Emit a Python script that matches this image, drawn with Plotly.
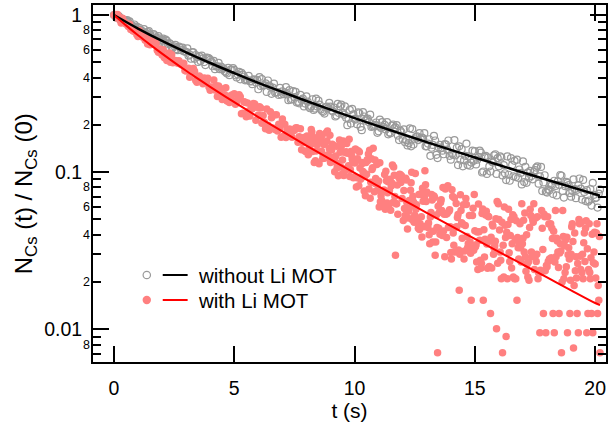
import math
import plotly.graph_objects as go

# ---------------- data ----------------
# without Li MOT (gray open circles), sampled every 0.05 s
t_gray = [round(0.05 * i, 2) for i in range(405)]
n_gray = [
    1.000, 0.997, 0.961, 0.983, 0.985, 0.948, 0.950, 0.945, 0.917, 0.927,
    0.923, 0.929, 0.900, 0.910, 0.864, 0.859, 0.847, 0.870, 0.834, 0.844,
    0.804, 0.830, 0.802, 0.795, 0.782, 0.812, 0.768, 0.762, 0.778, 0.790,
    0.752, 0.723, 0.722, 0.756, 0.742, 0.719, 0.690, 0.734, 0.710, 0.678,
    0.692, 0.708, 0.665, 0.697, 0.685, 0.654, 0.663, 0.654, 0.623, 0.618,
    0.632, 0.646, 0.607, 0.597, 0.630, 0.621, 0.597, 0.620, 0.587, 0.586,
    0.583, 0.614, 0.551, 0.559, 0.527, 0.580, 0.578, 0.526, 0.555, 0.540,
    0.503, 0.546, 0.510, 0.552, 0.529, 0.502, 0.480, 0.535, 0.533, 0.530,
    0.518, 0.505, 0.472, 0.511, 0.452, 0.471, 0.471, 0.496, 0.452, 0.470,
    0.451, 0.457, 0.438, 0.432, 0.425, 0.461, 0.414, 0.449, 0.447, 0.459,
    0.447, 0.413, 0.401, 0.418, 0.435, 0.390, 0.428, 0.417, 0.406, 0.384,
    0.389, 0.384, 0.410, 0.379, 0.378, 0.363, 0.389, 0.387, 0.372, 0.387,
    0.337, 0.403, 0.354, 0.391, 0.356, 0.358, 0.367, 0.324, 0.383, 0.355,
    0.349, 0.315, 0.345, 0.366, 0.320, 0.322, 0.323, 0.310, 0.344, 0.312,
    0.327, 0.314, 0.322, 0.348, 0.312, 0.287, 0.333, 0.289, 0.292, 0.328,
    0.300, 0.324, 0.278, 0.281, 0.274, 0.310, 0.288, 0.294, 0.262, 0.273,
    0.304, 0.281, 0.261, 0.255, 0.263, 0.291, 0.249, 0.254, 0.294, 0.262,
    0.285, 0.269, 0.250, 0.245, 0.242, 0.236, 0.259, 0.261, 0.256, 0.276,
    0.261, 0.247, 0.243, 0.258, 0.226, 0.229, 0.272, 0.238, 0.262, 0.269,
    0.238, 0.232, 0.262, 0.222, 0.199, 0.219, 0.249, 0.204, 0.253, 0.233,
    0.218, 0.216, 0.202, 0.240, 0.237, 0.194, 0.185, 0.241, 0.226, 0.213,
    0.217, 0.219, 0.208, 0.232, 0.194, 0.196, 0.198, 0.200, 0.207, 0.178,
    0.182, 0.216, 0.191, 0.208, 0.194, 0.200, 0.187, 0.208, 0.174, 0.179,
    0.177, 0.198, 0.201, 0.190, 0.193, 0.199, 0.171, 0.160, 0.184, 0.179,
    0.162, 0.187, 0.155, 0.160, 0.148, 0.153, 0.190, 0.146, 0.188, 0.150,
    0.162, 0.167, 0.169, 0.160, 0.177, 0.163, 0.166, 0.164, 0.177, 0.146,
    0.146, 0.152, 0.162, 0.127, 0.143, 0.149, 0.170, 0.159, 0.129, 0.123,
    0.144, 0.149, 0.142, 0.137, 0.130, 0.151, 0.150, 0.139, 0.159, 0.127,
    0.120, 0.131, 0.129, 0.160, 0.128, 0.143, 0.111, 0.146, 0.120, 0.140,
    0.109, 0.119, 0.127, 0.152, 0.111, 0.126, 0.110, 0.115, 0.137, 0.118,
    0.136, 0.112, 0.120, 0.125, 0.137, 0.133, 0.0995, 0.101, 0.125, 0.127,
    0.0974, 0.124, 0.109, 0.101, 0.117, 0.115, 0.128, 0.130, 0.0974, 0.123,
    0.109, 0.126, 0.124, 0.0953, 0.111, 0.0984, 0.0891, 0.126, 0.0963, 0.0882,
    0.123, 0.111, 0.0942, 0.118, 0.0931, 0.120, 0.0921, 0.104, 0.0987, 0.0835,
    0.117, 0.0865, 0.108, 0.0855, 0.0994, 0.0919, 0.102, 0.0946, 0.0900, 0.101,
    0.103, 0.107, 0.109, 0.0845, 0.0941, 0.108, 0.0758, 0.0861, 0.0956, 0.0750,
    0.0742, 0.0776, 0.0768, 0.0835, 0.0825, 0.0726, 0.0882, 0.0817, 0.0711, 0.0873,
    0.0831, 0.0959, 0.0949, 0.0759, 0.0689, 0.0814, 0.0868, 0.0855, 0.0827, 0.0736,
    0.0698, 0.0758, 0.0901, 0.0781, 0.0683, 0.0772, 0.0823, 0.0911, 0.0786, 0.0669,
    0.0893, 0.0749, 0.0655, 0.0769, 0.0648, 0.0660, 0.0781, 0.0613, 0.0855, 0.0717,
    0.0683, 0.0690, 0.0595, 0.0731, 0.0776,
]

# with Li MOT (red filled circles): every 0.05 s, plus the interleaved shots from 8 s on
t_red = [round(0.05 * i, 2) for i in range(405)] + [round(8.025 + 0.05 * i, 3) for i in range(244)]
n_red = [
    1.000, 1.006, 0.960, 1.006, 0.976, 0.925, 0.890, 0.954, 0.911, 0.897,
    0.878, 0.872, 0.846, 0.872, 0.809, 0.806, 0.792, 0.789, 0.782, 0.752,
    0.729, 0.798, 0.732, 0.766, 0.723, 0.733, 0.692, 0.735, 0.653, 0.664,
    0.646, 0.686, 0.678, 0.658, 0.651, 0.661, 0.597, 0.579, 0.608, 0.599,
    0.557, 0.602, 0.535, 0.543, 0.513, 0.522, 0.573, 0.500, 0.559, 0.496,
    0.506, 0.514, 0.509, 0.494, 0.511, 0.489, 0.484, 0.480, 0.494, 0.444,
    0.441, 0.450, 0.459, 0.402, 0.420, 0.429, 0.456, 0.438, 0.383, 0.374,
    0.400, 0.409, 0.391, 0.382, 0.365, 0.398, 0.389, 0.373, 0.396, 0.348,
    0.332, 0.348, 0.340, 0.386, 0.333, 0.355, 0.303, 0.354, 0.311, 0.339,
    0.290, 0.304, 0.311, 0.345, 0.284, 0.304, 0.278, 0.284, 0.310, 0.284,
    0.316, 0.270, 0.282, 0.291, 0.311, 0.302, 0.235, 0.237, 0.281, 0.279,
    0.225, 0.275, 0.244, 0.228, 0.255, 0.253, 0.273, 0.271, 0.214, 0.259,
    0.231, 0.261, 0.256, 0.205, 0.229, 0.208, 0.189, 0.252, 0.199, 0.185,
    0.242, 0.222, 0.191, 0.231, 0.187, 0.232, 0.183, 0.202, 0.192, 0.167,
    0.218, 0.169, 0.202, 0.166, 0.186, 0.174, 0.188, 0.176, 0.167, 0.184,
    0.185, 0.191, 0.192, 0.155, 0.168, 0.189, 0.139, 0.154, 0.166, 0.136,
    # t = 8.00 s ...
    0.1347, 0.1546, 0.1320, 0.1586, 0.187, 0.1355, 0.1596, 0.1523, 0.1362, 0.1493,
    0.168, 0.176, 0.157, 0.172, 0.1282, 0.1224, 0.1257, 0.158, 0.129, 0.1414,
    0.1153, 0.1386, 0.1239, 0.1183, 0.1159, 0.146, 0.1136, 0.1085, 0.1339, 0.1468,
    0.1197, 0.0951, 0.1022, 0.1347, 0.1321, 0.1098, 0.0938, 0.1356, 0.1213, 0.0920,
    # t = 10.00 s ...
    0.1143, 0.1397, 0.0920, 0.1371, 0.1344, 0.0902, 0.1152, 0.1008, 0.0759, 0.0709,
    0.0971, 0.1185, 0.0780, 0.0682, 0.1218, 0.1065, 0.0857, 0.1194, 0.0840, 0.0845,
    0.0879, 0.1147, 0.0707, 0.0756, 0.0606, 0.0965, 0.1012, 0.0636, 0.0868, 0.0762,
    0.0572, 0.0852, 0.0641, 0.0955, 0.0296, 0.0629, 0.0539, 0.0918, 0.0964, 0.0950,
    # t = 12.00 s ...
    0.0906, 0.0763, 0.0529, 0.0890, 0.0435, 0.0565, 0.0605, 0.0856, 0.0498, 0.0647,
    0.0532, 0.0581, 0.0480, 0.0440, 0.0431, 0.0725, 0.0387, 0.0653, 0.0698, 0.0831,
    0.0747, 0.0444, 0.0399, 0.0518, 0.0720, 0.0359, 0.0706, 0.0296, 0.0534, 0.0071,
    0.0439, 0.0403, 0.0667, 0.0396, 0.0423, 0.0290, 0.0539, 0.0545, 0.0444, 0.0576,
    # t = 14.00 s ...
    0.0308, 0.0773, 0.0410, 0.0686, 0.0446, 0.0450, 0.0538, 0.0177, 0.0717, 0.0476,
    0.0467, 0.0280, 0.0458, 0.0623, 0.0330, 0.0335, 0.0359, 0.0153, 0.0530, 0.0318,
    0.0424, 0.0345, 0.0416, 0.0627, 0.0369, 0.0245, 0.0545, 0.0153, 0.0289, 0.0534,
    0.0349, 0.0525, 0.0251, 0.0126, 0.0246, 0.0455, 0.0329, 0.0364, 0.0101, 0.0263,
    # t = 16.00 s ...
    0.050, 0.031, 0.021, 0.0071, 0.0215, 0.046, 0.009, 0.021, 0.058, 0.027,
    0.050, 0.035, 0.0215, 0.021, 0.021, 0.0153, 0.033, 0.035, 0.033, 0.063,
    0.038, 0.031, 0.029, 0.040, 0.0215, 0.0205, 0.058, 0.031, 0.050, 0.063,
    0.029, 0.027, 0.052, 0.023, 0.0095, 0.023, 0.044, 0.0126, 0.052, 0.0095,
    # t = 18.00 s ...
    0.025, 0.027, 0.028, 0.047, 0.044, 0.0126, 0.0095, 0.057, 0.038, 0.031,
    0.0126, 0.035, 0.0071, 0.057, 0.021, 0.023, 0.025, 0.0095, 0.033, 0.0126,
    0.030, 0.047, 0.0076, 0.041, 0.029, 0.0126, 0.0095, 0.047, 0.024, 0.023,
    0.021, 0.041, 0.044, 0.0095, 0.0126, 0.047, 0.021, 0.0126, 0.0095, 0.031,
    0.026, 0.041, 0.0126, 0.0153, 0.0071,
    # interleaved shots, t = 8.025 s ...
    0.170, 0.129, 0.144, 0.152, 0.180, 0.167, 0.115, 0.118, 0.161, 0.157,
    0.113, 0.163, 0.136, 0.122, 0.150, 0.154, 0.178, 0.183, 0.124, 0.172,
    0.1195, 0.1504, 0.148, 0.1006, 0.1266, 0.1066, 0.095, 0.160, 0.108, 0.097,
    0.158, 0.1341, 0.105, 0.152, 0.1066, 0.162, 0.104, 0.128, 0.118, 0.093,
    0.140, 0.0804, 0.1218, 0.082, 0.1061, 0.0923, 0.1137, 0.099, 0.094, 0.115,
    0.120, 0.1306, 0.138, 0.0862, 0.104, 0.142, 0.075, 0.091, 0.112, 0.077,
    0.060, 0.0648, 0.066, 0.0756, 0.077, 0.058, 0.0882, 0.074, 0.062, 0.090,
    0.0816, 0.1111, 0.108, 0.070, 0.063, 0.083, 0.0952, 0.097, 0.086, 0.068,
    0.0492, 0.0588, 0.0916, 0.0642, 0.051, 0.066, 0.0767, 0.100, 0.0702, 0.048,
    0.098, 0.062, 0.050, 0.072, 0.047, 0.052, 0.079, 0.045, 0.102, 0.065,
    0.046, 0.0475, 0.035, 0.0553, 0.0665, 0.042, 0.069, 0.036, 0.0445, 0.0606,
    0.0553, 0.064, 0.057, 0.080, 0.054, 0.078, 0.0384, 0.082, 0.0565, 0.045,
    0.028, 0.070, 0.0343, 0.031, 0.0632, 0.0515, 0.032, 0.030, 0.0571, 0.038,
    0.062, 0.0315, 0.068, 0.039, 0.035, 0.053, 0.0305, 0.032, 0.059, 0.072,
    0.0335, 0.0268, 0.024, 0.0417, 0.0275, 0.0262, 0.0582, 0.0430, 0.0374, 0.0565,
    0.0245, 0.0521, 0.0365, 0.0385, 0.0466, 0.030, 0.034, 0.0505, 0.065, 0.063,
    0.0429, 0.0275, 0.048, 0.0343, 0.060, 0.0384, 0.0415, 0.0465, 0.0307, 0.0395,
    0.0246, 0.0536, 0.052, 0.0372, 0.049, 0.0384, 0.028, 0.047, 0.0268, 0.0350,
    0.0494, 0.055, 0.0234, 0.026, 0.0268, 0.0445, 0.053, 0.029, 0.048, 0.0240,
    0.051, 0.030, 0.021, 0.0228, 0.0238, 0.057, 0.0322, 0.054, 0.0236, 0.0255,
    0.052, 0.0468, 0.0275, 0.0285, 0.0378, 0.0421, 0.0268, 0.029, 0.0365, 0.0247,
    0.0306, 0.0315, 0.020, 0.039, 0.034, 0.0372, 0.0385, 0.0298, 0.0280, 0.0205,
    0.0449, 0.0362, 0.019, 0.0236, 0.0212, 0.0262, 0.050, 0.0292, 0.048, 0.0300,
    0.0355, 0.0270, 0.049, 0.0325, 0.0240, 0.0230, 0.0285, 0.0403, 0.0265, 0.0415,
    0.0212, 0.047, 0.019, 0.039,
]

# fit curves
t_fit_black = [0, 1, 2, 3, 4, 5, 6, 7, 8, 9, 10, 11, 12, 13, 14, 15, 16, 17, 18, 19, 20, 20.2]
n_fit_black = [1.000, 0.820, 0.684, 0.579, 0.495, 0.427, 0.370, 0.3235, 0.2838, 0.250, 0.2208,
               0.196, 0.1742, 0.1552, 0.1386, 0.1239, 0.111, 0.0996, 0.0894, 0.0804, 0.0724, 0.0709]
t_fit_red = [0, 0.5, 1, 1.5, 2, 2.5, 3, 3.5, 4, 5, 6, 7, 8, 9, 10, 11, 12, 13, 14, 15, 16, 17, 18, 19, 20, 20.2]
n_fit_red = [1.0, 0.859, 0.743, 0.648, 0.568, 0.500, 0.442, 0.3925, 0.349, 0.2787, 0.2243, 0.1816,
             0.1477, 0.1207, 0.0989, 0.0812, 0.0669, 0.0551, 0.0455, 0.0376, 0.0311, 0.0258,
             0.0214, 0.0177, 0.0147, 0.01425]

legend_labels = ["without Li MOT", "with Li MOT"]
x_ticks = [0, 5, 10, 15, 20]
y_major = [0.01, 0.1, 1]
y_major_text = ["0.01", "0.1", "1"]
y_minor = [0.007, 0.008, 0.009] + [k * 0.01 for k in range(2, 10)] + [k * 0.1 for k in range(2, 10)]
y_minor_labeled = [0.008, 0.02, 0.04, 0.06, 0.08, 0.2, 0.4, 0.6, 0.8]
y_minor_text = ["8", "2", "4", "6", "8", "2", "4", "6", "8"]

# ---------------- styling ----------------
FONT = "Arial, 'Liberation Sans', sans-serif"
GRAY = "#9a9a9a"
PINK = "#ff8080"
RED = "#ff0000"

fig = go.Figure()
fig.add_trace(go.Scatter(x=t_gray, y=n_gray, mode="markers", name=legend_labels[0],
                         marker=dict(symbol="circle-open", size=7, color=GRAY, line=dict(width=1.2, color=GRAY)),
                         showlegend=False))
fig.add_trace(go.Scatter(x=t_red, y=n_red, mode="markers", name=legend_labels[1],
                         marker=dict(symbol="circle", size=7.5, color=PINK, line=dict(width=0)),
                         showlegend=False))
fig.add_trace(go.Scatter(x=t_fit_black, y=n_fit_black, mode="lines",
                         line=dict(color="black", width=2.5, shape="spline"), showlegend=False))
fig.add_trace(go.Scatter(x=t_fit_red, y=n_fit_red, mode="lines",
                         line=dict(color=RED, width=2, shape="spline"), showlegend=False))

W, H = 610, 429
ml, mr, mt, mb = 93, 2, 5, 67
pw, ph = W - ml - mr, H - mt - mb

def px_to_paper(px, py):
    return (px - ml) / pw, (H - mb - py) / ph

annotations = []
shapes = []
for v, txt in zip(y_minor_labeled, y_minor_text):
    annotations.append(dict(x=0, xref="paper", y=math.log10(v), yref="y", text=txt, showarrow=False,
                            xanchor="right", yanchor="middle", xshift=-1,
                            font=dict(family=FONT, size=12.5, color="black")))

# y axis title
tx, ty = px_to_paper(25, 194)
annotations.append(dict(x=tx, y=ty, xref="paper", yref="paper", textangle=-90, showarrow=False,
                        text="N<sub>Cs</sub> (t) / N<sub>Cs</sub> (0)", xanchor="center", yanchor="middle",
                        font=dict(family=FONT, size=24, color="black")))

# custom legend
rows_py = [275, 300]
for i, (lab, mcol, lcol, filled) in enumerate([(legend_labels[0], GRAY, "black", False),
                                               (legend_labels[1], PINK, RED, True)]):
    mx, my = px_to_paper(147, rows_py[i])
    r = 3.7 if not filled else 4.2
    shapes.append(dict(type="circle", xref="paper", yref="paper", xsizemode="pixel", ysizemode="pixel",
                       xanchor=mx, yanchor=my, x0=-r, x1=r, y0=-r, y1=r,
                       line=dict(color=mcol, width=1.2 if not filled else 0),
                       fillcolor=mcol if filled else "rgba(0,0,0,0)"))
    x0, y0 = px_to_paper(163, rows_py[i])
    x1, _ = px_to_paper(188, rows_py[i])
    shapes.append(dict(type="line", xref="paper", yref="paper", x0=x0, x1=x1, y0=y0, y1=y0,
                       line=dict(color=lcol, width=2)))
    lx, ly = px_to_paper(196, rows_py[i])
    annotations.append(dict(x=lx, y=ly, xref="paper", yref="paper", text=lab, showarrow=False,
                            xanchor="left", yanchor="middle", font=dict(family=FONT, size=20.5, color="black")))

fig.update_layout(
    width=W, height=H,
    margin=dict(l=ml, r=mr, t=mt, b=mb, pad=0),
    paper_bgcolor="white", plot_bgcolor="white",
    font=dict(family=FONT, color="black"),
    showlegend=False,
    annotations=annotations,
    shapes=shapes,
    xaxis=dict(
        range=[-0.87, 20.45], tickvals=x_ticks, ticks="inside", ticklen=16, tickwidth=2, tickcolor="black",
        showline=True, linewidth=2, linecolor="black", mirror="ticks", showgrid=False, zeroline=False,
        tickfont=dict(family=FONT, size=19.5), ticklabelstandoff=8,
        title=dict(text="t (s)", font=dict(family=FONT, size=21), standoff=0),
    ),
    yaxis=dict(
        type="log", range=[-2.208, 0.0637], tickvals=y_major, ticktext=y_major_text,
        ticks="inside", ticklen=16, tickwidth=2, tickcolor="black",
        minor=dict(tickvals=y_minor, ticks="inside", ticklen=8, tickwidth=2, tickcolor="black", showgrid=False),
        showline=True, linewidth=2, linecolor="black", mirror="ticks", showgrid=False, zeroline=False,
        tickfont=dict(family=FONT, size=19.5), ticklabelstandoff=5,
    ),
)

fig.write_html("out.html", config={"displayModeBar": False},
               post_script="document.body.style.margin='0px';document.body.style.overflow='hidden';")
